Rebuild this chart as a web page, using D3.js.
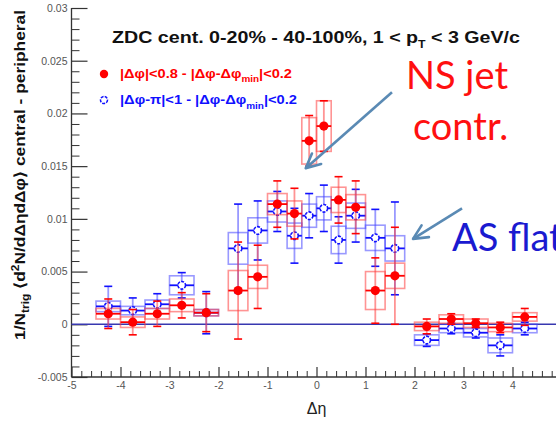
<!DOCTYPE html>
<html>
<head>
<meta charset="utf-8">
<script src="https://cdn.jsdelivr.net/npm/d3@7"></script>
<style>
  html, body { margin: 0; padding: 0; background: #fff; }
  svg { display: block; font-family: "Liberation Sans", Arial, sans-serif; }
</style>
</head>
<body>
<svg id="chart" width="556" height="424"></svg>
<script>
// Δη bins: centre and full width
const etaCenter = [-4.25, -3.75, -3.25, -2.75, -2.25,
                   -1.6, -1.2, -0.8, -0.45, -0.15, 0.15, 0.45, 0.8, 1.2, 1.6,
                   2.25, 2.75, 3.25, 3.75, 4.25];
const etaWidth  = [0.5, 0.5, 0.5, 0.5, 0.5,
                   0.4, 0.4, 0.4, 0.3, 0.3, 0.3, 0.3, 0.4, 0.4, 0.4,
                   0.5, 0.5, 0.5, 0.5, 0.5];

// near-side window: |Δφ|<0.8 minus |Δφ-Δφmin|<0.2
const nsValue = [0.0010, 0.0002, 0.0010, 0.0018, 0.0011,
                 0.0032, 0.0045, 0.0114, 0.0105, 0.0174, 0.0188, 0.0118, 0.0111, 0.0032, 0.0046,
                 -0.0002, 0.0005, 0.0001, -0.0003, 0.0007];
const nsStat  = [0.0014, 0.0012, 0.0012, 0.0012, 0.0018,
                 0.0046, 0.0030, 0.0022, 0.0024, 0.0024, 0.0024, 0.0022, 0.0025, 0.0031, 0.0046,
                 0.0007, 0.0005, 0.0004, 0.0005, 0.0008];
const nsSys   = [0.0005, 0.0005, 0.0005, 0.0006, 0.0003,
                 0.0019, 0.0011, 0.0010, 0.0012, 0.0022, 0.0024, 0.0012, 0.0012, 0.0018, 0.0012,
                 0.0004, 0.0004, 0.0004, 0.0004, 0.0004];

// away-side window: |Δφ-π|<1 minus |Δφ-Δφmin|<0.2
const asValue = [0.0017, 0.0013, 0.0019, 0.0037, 0.0011,
                 0.0072, 0.0089, 0.0107, 0.0084, 0.0103, 0.0110, 0.0080, 0.0103, 0.0082, 0.0072,
                 -0.0015, -0.0004, -0.0008, -0.0020, -0.0004];
const asStat  = [0.0019, 0.0012, 0.0010, 0.0012, 0.0020,
                 0.0042, 0.0028, 0.0019, 0.0026, 0.0021, 0.0022, 0.0022, 0.0025, 0.0027, 0.0044,
                 0.0006, 0.0005, 0.0005, 0.0010, 0.0006];
const asSys   = [0.0005, 0.0004, 0.0004, 0.0009, 0.0003,
                 0.0015, 0.0012, 0.0010, 0.0012, 0.0011, 0.0011, 0.0013, 0.0012, 0.0012, 0.0012,
                 0.0005, 0.0004, 0.0004, 0.0007, 0.0004];

// axis ticks
const xMajorTicks = [-5, -4, -3, -2, -1, 0, 1, 2, 3, 4];
const xTickLabels = ["-5", "-4", "-3", "-2", "-1", "0", "1", "2", "3", "4"];
const yMajorTicks = [-0.005, 0, 0.005, 0.01, 0.015, 0.02, 0.025, 0.03];
const yTickLabels = ["-0.005", "0", "0.005", "0.01", "0.015", "0.02", "0.025", "0.03"];

const svg = d3.select("#chart");
const x = d3.scaleLinear().domain([-5, 5]).range([71.5, 561.5]);
const y = d3.scaleLinear().domain([-0.005, 0.03]).range([377, 8]);

const axisColor = "#333";
const labelFont = "Liberation Sans, Arial, sans-serif";

// y axis: minor ticks every 0.001, major every 0.005, drawn inward
const yMinor = d3.range(-5, 31).map(i => i / 1000).filter(v => !yMajorTicks.some(t => Math.abs(t - v) < 1e-9));
const gY = svg.append("g").attr("transform", `translate(${x(-5)},0)`);
gY.call(d3.axisLeft(y).tickValues(yMinor).tickSize(-8).tickFormat(""));
gY.selectAll(".tick line").attr("stroke", axisColor);
const gY2 = svg.append("g").attr("transform", `translate(${x(-5)},0)`);
gY2.call(d3.axisLeft(y).tickValues(yMajorTicks).tickSize(-16).tickPadding(4)
  .tickFormat((d, i) => yTickLabels[i]));
gY2.selectAll(".tick line").attr("stroke", axisColor).attr("stroke-width", 1.2);
gY2.selectAll(".tick text").attr("font-size", 10.5).attr("fill", "#555").attr("font-family", labelFont);
svg.selectAll(".domain").remove();

// x axis: minor ticks every 0.2, major every 1
const xMinor = d3.range(-25, 26).map(i => i / 5).filter(v => !xMajorTicks.includes(v) && v < 5);
const gX = svg.append("g").attr("transform", `translate(0,${y(-0.005)})`);
gX.call(d3.axisBottom(x).tickValues(xMinor).tickSize(-6).tickFormat(""));
gX.selectAll(".tick line").attr("stroke", axisColor);
const gX2 = svg.append("g").attr("transform", `translate(0,${y(-0.005)})`);
gX2.call(d3.axisBottom(x).tickValues(xMajorTicks).tickSize(-10).tickPadding(5)
  .tickFormat((d, i) => xTickLabels[i]));
gX2.selectAll(".tick line").attr("stroke", axisColor).attr("stroke-width", 1.2);
gX2.selectAll(".tick text").attr("font-size", 10.5).attr("fill", "#555").attr("font-family", labelFont);
svg.selectAll(".domain").remove();

// axis lines
svg.append("line").attr("x1", x(-5)).attr("x2", x(-5)).attr("y1", y(0.03)).attr("y2", y(-0.005))
  .attr("stroke", axisColor).attr("stroke-width", 1.3);
svg.append("line").attr("x1", x(-5)).attr("x2", x(5)).attr("y1", y(-0.005)).attr("y2", y(-0.005))
  .attr("stroke", axisColor).attr("stroke-width", 1.3);

// zero line
svg.append("line").attr("x1", x(-5)).attr("x2", x(5)).attr("y1", y(0)).attr("y2", y(0))
  .attr("stroke", "#3838b0").attr("stroke-width", 1.6);

// one series: systematic boxes, bin-width bars, statistical error bars, markers
function drawSeries(values, stat, sys, solid, pale, filled) {
  const rows = etaCenter.map((c, i) => ({
    c, lo: c - etaWidth[i] / 2, hi: c + etaWidth[i] / 2,
    v: values[i], s: stat[i], e: sys[i]
  }));
  const g = svg.append("g");
  g.selectAll("rect.sys").data(rows).join("rect").attr("class", "sys")
    .attr("x", d => x(d.lo)).attr("width", d => x(d.hi) - x(d.lo))
    .attr("y", d => y(d.v + d.e)).attr("height", d => y(d.v - d.e) - y(d.v + d.e))
    .attr("fill", "none").attr("stroke", pale).attr("stroke-width", 1.6);
  g.selectAll("line.bin").data(rows).join("line").attr("class", "bin")
    .attr("x1", d => x(d.lo)).attr("x2", d => x(d.hi))
    .attr("y1", d => y(d.v)).attr("y2", d => y(d.v))
    .attr("stroke", solid).attr("stroke-width", 1.8);
  g.selectAll("line.stat").data(rows).join("line").attr("class", "stat")
    .attr("x1", d => x(d.c)).attr("x2", d => x(d.c))
    .attr("y1", d => y(d.v + d.s)).attr("y2", d => y(d.v - d.s))
    .attr("stroke", pale).attr("stroke-width", 1.8);
  ["top", "bot"].forEach(k => {
    g.selectAll("line.cap" + k).data(rows).join("line").attr("class", "cap" + k)
      .attr("x1", d => x(d.c) - 4).attr("x2", d => x(d.c) + 4)
      .attr("y1", d => y(k === "top" ? d.v + d.s : d.v - d.s))
      .attr("y2", d => y(k === "top" ? d.v + d.s : d.v - d.s))
      .attr("stroke", solid).attr("stroke-width", 1.6);
  });
  g.selectAll("circle").data(rows).join("circle")
    .attr("cx", d => x(d.c)).attr("cy", d => y(d.v))
    .attr("r", filled ? 4.6 : 3.8)
    .attr("fill", filled ? solid : "#fff")
    .attr("stroke", solid).attr("stroke-width", filled ? 0 : 1.6)
    .attr("stroke-dasharray", filled ? null : "3,1.2");
}

drawSeries(asValue, asStat, asSys, "#1010ff", "rgba(70,70,255,0.55)", false);
drawSeries(nsValue, nsStat, nsSys, "#ff0000", "rgba(255,60,60,0.55)", true);

// axis titles
svg.append("text").attr("x", x(0)).attr("y", 414).attr("text-anchor", "middle")
  .attr("font-size", 16).attr("fill", "#222").text("Δη");

const yt = svg.append("text").attr("transform", "translate(25,175) rotate(-90)")
  .attr("text-anchor", "middle").attr("font-size", 14.5).attr("font-weight", "bold").attr("fill", "#111")
  .attr("textLength", 330).attr("lengthAdjust", "spacingAndGlyphs");
yt.append("tspan").text("1/N");
yt.append("tspan").attr("font-size", 10).attr("dy", 4).text("trig");
yt.append("tspan").attr("dy", -4).text(" ⟨d");
yt.append("tspan").attr("font-size", 10).attr("dy", -6).text("2");
yt.append("tspan").attr("dy", 6).text("N/dΔηdΔφ⟩ central - peripheral");

// title
const tt = svg.append("text").attr("x", 112).attr("y", 43)
  .attr("font-size", 16).attr("font-weight", "bold").attr("fill", "#111")
  .attr("textLength", 408).attr("lengthAdjust", "spacingAndGlyphs");
tt.append("tspan").text("ZDC cent. 0-20% - 40-100%, 1 < p");
tt.append("tspan").attr("font-size", 10).attr("dy", 5).text("T");
tt.append("tspan").attr("dy", -5).text(" < 3 GeV/c");

// legend
svg.append("circle").attr("cx", 104).attr("cy", 74).attr("r", 4.2).attr("fill", "#ff0000");
svg.append("circle").attr("cx", 104).attr("cy", 100).attr("r", 3.5).attr("fill", "#fff")
  .attr("stroke", "#1010ff").attr("stroke-width", 1.5).attr("stroke-dasharray", "3,1.2");
const l1 = svg.append("text").attr("x", 120).attr("y", 78).attr("font-size", 12.5)
  .attr("font-weight", "bold").attr("fill", "#ff0000")
  .attr("textLength", 172).attr("lengthAdjust", "spacingAndGlyphs");
l1.append("tspan").text("|Δφ|<0.8 - |Δφ-Δφ");
l1.append("tspan").attr("font-size", 8.5).attr("dy", 4).text("min");
l1.append("tspan").attr("dy", -4).text("|<0.2");
const l2 = svg.append("text").attr("x", 120).attr("y", 104).attr("font-size", 12.5)
  .attr("font-weight", "bold").attr("fill", "#1010ff")
  .attr("textLength", 177).attr("lengthAdjust", "spacingAndGlyphs");
l2.append("tspan").text("|Δφ-π|<1 - |Δφ-Δφ");
l2.append("tspan").attr("font-size", 8.5).attr("dy", 5).text("min");
l2.append("tspan").attr("dy", -5).text("|<0.2");

// annotations
const noteFont = "Lato, 'Open Sans', sans-serif";
svg.append("text").attr("x", 406).attr("y", 89).attr("font-size", 38).attr("font-family", noteFont)
  .attr("fill", "#ff1010").text("NS jet");
svg.append("text").attr("x", 413).attr("y", 140).attr("font-size", 38).attr("font-family", noteFont)
  .attr("fill", "#ff1010").text("contr.");
svg.append("text").attr("x", 452).attr("y", 251).attr("font-size", 38).attr("font-family", noteFont)
  .attr("fill", "#1a1ad0").text("AS flat");

function arrow(x0, y0, x1, y1) {
  const px0 = x(x0), py0 = y(y0), px1 = x(x1), py1 = y(y1);
  const ang = Math.atan2(py1 - py0, px1 - px0);
  const L = 16, spread = 0.45;
  svg.append("line").attr("x1", px0).attr("y1", py0).attr("x2", px1).attr("y2", py1)
    .attr("stroke", "#5a8ab4").attr("stroke-width", 2.6);
  const head = [ang + Math.PI - spread, ang + Math.PI + spread].map(a =>
    [px1 + L * Math.cos(a), py1 + L * Math.sin(a)]);
  svg.append("path")
    .attr("d", `M${head[0][0]},${head[0][1]}L${px1},${py1}L${head[1][0]},${head[1][1]}`)
    .attr("fill", "none").attr("stroke", "#5a8ab4").attr("stroke-width", 2.6)
    .attr("stroke-linejoin", "round").attr("stroke-linecap", "round");
}
arrow(1.54, 0.0220, -0.22, 0.0148);
arrow(2.97, 0.0110, 1.97, 0.0081);
</script>
</body>
</html>
